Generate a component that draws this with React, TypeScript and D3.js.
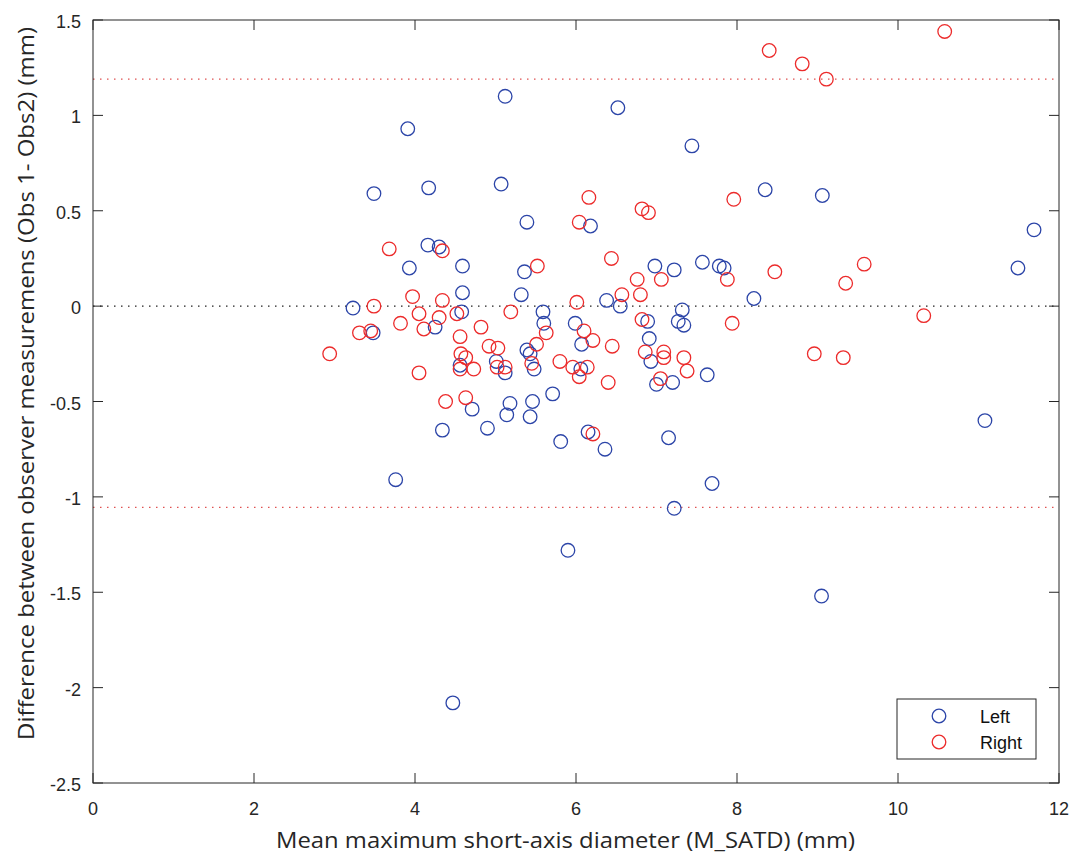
import React from "react";
import * as d3 from "d3";

const leftData: [number, number][] = [
  [3.23, -0.01], [3.49, 0.59], [3.48, -0.14], [3.91, 0.93], [3.93, 0.2], [3.76, -0.91],
  [4.17, 0.62], [4.16, 0.32], [4.3, 0.31], [4.25, -0.11], [4.34, -0.65], [4.59, 0.21],
  [4.59, 0.07], [4.58, -0.03], [4.56, -0.31], [4.71, -0.54], [4.47, -2.08], [4.9, -0.64],
  [5.07, 0.64], [5.12, 1.1], [5.01, -0.29], [5.12, -0.35], [5.18, -0.51], [5.14, -0.57],
  [5.32, 0.06], [5.36, 0.18], [5.39, 0.44], [5.39, -0.23], [5.43, -0.25], [5.48, -0.33],
  [5.46, -0.5], [5.43, -0.58], [5.59, -0.03], [5.6, -0.09], [5.71, -0.46], [5.81, -0.71],
  [5.9, -1.28], [5.99, -0.09], [6.07, -0.2], [6.06, -0.33], [6.15, -0.66], [6.18, 0.42],
  [6.36, -0.75], [6.38, 0.03], [6.52, 1.04], [6.55, 0.0], [6.89, -0.08], [6.91, -0.17],
  [6.93, -0.29], [6.98, 0.21], [7.0, -0.41], [7.15, -0.69], [7.2, -0.4], [7.22, 0.19],
  [7.22, -1.06], [7.27, -0.08], [7.32, -0.02], [7.34, -0.1], [7.44, 0.84], [7.57, 0.23],
  [7.63, -0.36], [7.69, -0.93], [7.78, 0.21], [7.84, 0.2], [8.21, 0.04], [8.35, 0.61],
  [9.06, 0.58], [9.05, -1.52], [11.08, -0.6], [11.49, 0.2], [11.69, 0.4],
];

const rightData: [number, number][] = [
  [2.94, -0.25], [3.31, -0.14], [3.45, -0.13], [3.49, 0.0], [3.68, 0.3], [3.82, -0.09],
  [3.97, 0.05], [4.05, -0.04], [4.05, -0.35], [4.11, -0.12], [4.3, -0.06], [4.34, 0.29],
  [4.34, 0.03], [4.38, -0.5], [4.52, -0.04], [4.56, -0.16], [4.57, -0.25], [4.63, -0.27],
  [4.56, -0.33], [4.63, -0.48], [4.73, -0.33], [4.82, -0.11], [4.92, -0.21], [5.03, -0.22],
  [5.02, -0.32], [5.12, -0.32], [5.19, -0.03], [5.45, -0.3], [5.51, -0.2], [5.52, 0.21],
  [5.63, -0.14], [5.8, -0.29], [5.96, -0.32], [6.01, 0.02], [6.04, 0.44], [6.04, -0.37],
  [6.1, -0.13], [6.14, -0.32], [6.16, 0.57], [6.21, -0.18], [6.21, -0.67], [6.4, -0.4],
  [6.44, 0.25], [6.45, -0.21], [6.57, 0.06], [6.76, 0.14], [6.8, 0.06], [6.82, 0.51],
  [6.82, -0.07], [6.86, -0.24], [6.9, 0.49], [7.05, -0.38], [7.06, 0.14], [7.09, -0.24],
  [7.09, -0.27], [7.34, -0.27], [7.38, -0.34], [7.88, 0.14], [7.94, -0.09], [7.96, 0.56],
  [8.4, 1.34], [8.47, 0.18], [8.81, 1.27], [8.96, -0.25], [9.11, 1.19], [9.32, -0.27],
  [9.35, 0.12], [9.58, 0.22], [10.32, -0.05], [10.58, 1.44],
];

const xTicks = [0, 2, 4, 6, 8, 10, 12];
const yTicks = [1.5, 1, 0.5, 0, -0.5, -1, -1.5, -2, -2.5];
const meanLine = 0;
const limitLines = [1.19, -1.055];
const seriesNames = ["Left", "Right"];

const W = 1075;
const H = 856;
const M = { left: 93, right: 1059, top: 20, bottom: 783 };
const BLUE = "#2c45a8";
const RED = "#ec2b2b";
const AX = "#262626";
const FONT = "'Liberation Sans', Arial, Helvetica, sans-serif";
const LFONT = "'Open Sans', 'Noto Sans', sans-serif";

export default function App() {
  const x = d3.scaleLinear().domain([0, 12]).range([M.left, M.right]);
  const y = d3.scaleLinear().domain([-2.5, 1.5]).range([M.bottom, M.top]);
  const tl = 10;
  const fmt = (v: number) => (v === 0 ? "0" : String(v));

  return (
    <svg width={W} height={H} style={{ position: "absolute", left: 0, top: 0, background: "#fff" }}>
      <line x1={M.left} x2={M.right} y1={y(meanLine)} y2={y(meanLine)} stroke="#222" strokeWidth={1.3} strokeDasharray="1.5,5.5" />
      {limitLines.map((v, i) => (
        <line key={i} x1={M.left} x2={M.right} y1={y(v)} y2={y(v)} stroke="#e05050" strokeWidth={1.1} strokeDasharray="1.5,5.5" />
      ))}
      {leftData.map((d, i) => (
        <circle key={"l" + i} cx={x(d[0])} cy={y(d[1])} r={6.8} fill="none" stroke={BLUE} strokeWidth={1.3} />
      ))}
      {rightData.map((d, i) => (
        <circle key={"r" + i} cx={x(d[0])} cy={y(d[1])} r={6.8} fill="none" stroke={RED} strokeWidth={1.3} />
      ))}
      <rect x={M.left} y={M.top} width={M.right - M.left} height={M.bottom - M.top} fill="none" stroke={AX} strokeWidth={1} />
      {xTicks.map((t) => (
        <g key={"xt" + t}>
          <line x1={x(t)} x2={x(t)} y1={M.bottom} y2={M.bottom - tl} stroke={AX} />
          <line x1={x(t)} x2={x(t)} y1={M.top} y2={M.top + tl} stroke={AX} />
          <text x={x(t)} y={M.bottom + 32} textAnchor="middle" fontFamily={FONT} fontSize={18} fill={AX}>
            {fmt(t)}
          </text>
        </g>
      ))}
      {yTicks.map((t) => (
        <g key={"yt" + t}>
          <line x1={M.left} x2={M.left + tl} y1={y(t)} y2={y(t)} stroke={AX} />
          <line x1={M.right} x2={M.right - tl} y1={y(t)} y2={y(t)} stroke={AX} />
          <text x={M.left - 12} y={y(t) + 8} textAnchor="end" fontFamily={FONT} fontSize={18} fill={AX}>
            {fmt(t)}
          </text>
        </g>
      ))}
      <text
        x={565.5}
        y={848}
        textAnchor="middle"
        fontFamily={LFONT}
        fontSize={21.5}
        fill={AX}
        textLength={579}
        lengthAdjust="spacingAndGlyphs"
      >
        Mean maximum short-axis diameter (M_SATD) (mm)
      </text>
      <text
        transform={`translate(34, 383.5) rotate(-90)`}
        textAnchor="middle"
        fontFamily={LFONT}
        fontSize={21}
        fill={AX}
        textLength={713}
        lengthAdjust="spacingAndGlyphs"
      >
        Difference between observer measuremens (Obs 1- Obs2) (mm)
      </text>
      <g>
        <rect x={897} y={699} width={139} height={60} fill="#fff" stroke={AX} strokeWidth={1} />
        {seriesNames.map((n, i) => (
          <g key={n}>
            <circle cx={939} cy={716 + i * 26} r={6.8} fill="none" stroke={i === 0 ? BLUE : RED} strokeWidth={1.3} />
            <text x={980} y={722.5 + i * 26} fontFamily={FONT} fontSize={18} fill="#111">
              {n}
            </text>
          </g>
        ))}
      </g>
    </svg>
  );
}
